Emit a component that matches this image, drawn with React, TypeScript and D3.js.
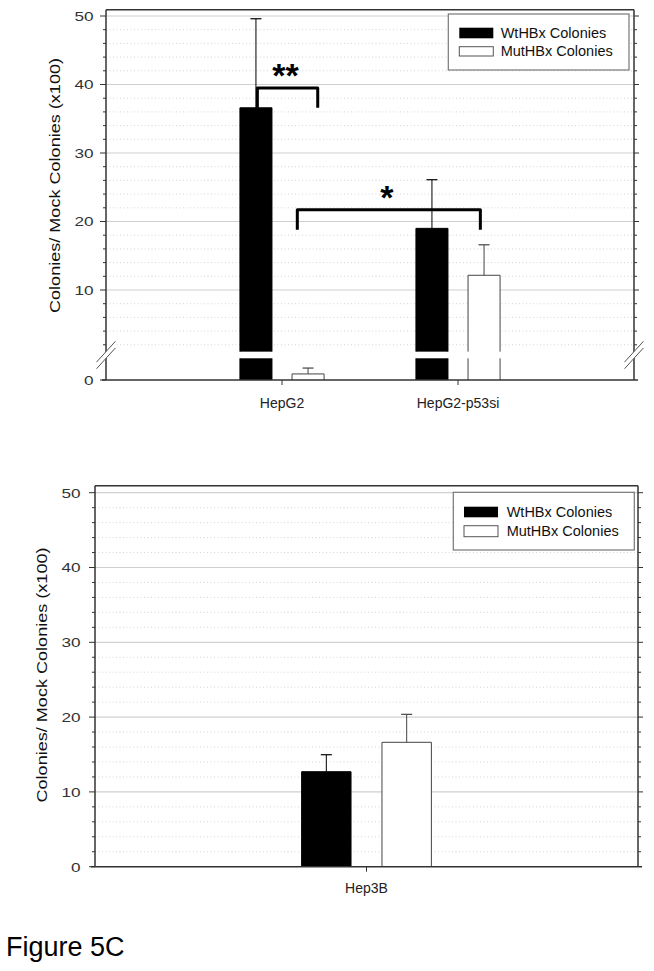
import React from 'react';
import * as d3 from 'd3';

// ---------------- data ----------------
const categoriesTop = ['HepG2', 'HepG2-p53si'];
const wtTop = [36.6, 19.0];
const wtTopErr = [13.0, 7.1];
const mutTop = [0.28, 12.15];
const mutTopErr = [0.27, 4.45];

const categoriesBottom = ['Hep3B'];
const wtBottom = [12.7];
const wtBottomErr = [2.27];
const mutBottom = [16.63];
const mutBottomErr = [3.74];

const seriesNames = ['WtHBx Colonies', 'MutHBx Colonies'];
const majorTicks = [10, 20, 30, 40, 50];
const minorTicks = d3.range(2, 50, 2).filter((v) => v % 10 !== 0);
const yTitle = 'Colonies/ Mock Colonies (x100)';
const figureLabel = 'Figure 5C';

// significance annotations (top panel): ends given as [category, offset in steps]
const sigLabels = ['**', '*'];
const sigLevels = [39.5, 21.7];
const sigDrops = [36.6, 18.8];
const sigLeft: [string, number][] = [['HepG2', -0.14], ['HepG2', 0.087]];
const sigRight: [string, number][] = [['HepG2', 0.203], ['HepG2-p53si', 0.127]];

const FONT = "'Liberation Sans', Arial, Helvetica, sans-serif";
const AXIS = '#333';
const GRID = '#d0d0d0';
const DOT = '#d6d6d6';

const BAR_OFF = 0.148;
const BAR_W = 0.182;
const CAP = 11;

type Panel = {
  left: number;
  right: number;
  top: number;
  bottom: number;
  cats: string[];
  wt: number[];
  wtErr: number[];
  mut: number[];
  mutErr: number[];
  yUpper: d3.ScaleLinear<number, number>;
  yLower?: d3.ScaleLinear<number, number>;
  breakVal?: number;
  tickLabelX: number;
  titleX: number;
  titleY: number;
  catLabelY: number;
  legend: { x: number; y: number; w: number; h: number; sx: number; s1: number; s2: number; sh1: number; sh2: number; tx: number; b1: number; b2: number };
};

function BreakMark({ x, yUp, yLo }: { x: number; yUp: number; yLo: number }) {
  const dx = 9.5;
  const k = 1.1;
  const p = [
    [x - dx, yLo + dx * k],
    [x + dx, yLo - dx * k],
    [x + dx, yUp - dx * k],
    [x - dx, yUp + dx * k],
  ];
  return (
    <g>
      <polygon points={p.map((q) => q.join(',')).join(' ')} fill="#fff" />
      <line x1={p[0][0]} y1={p[0][1]} x2={p[1][0]} y2={p[1][1]} stroke="#555" strokeWidth={1} />
      <line x1={p[3][0]} y1={p[3][1]} x2={p[2][0]} y2={p[2][1]} stroke="#555" strokeWidth={1} />
    </g>
  );
}

function PanelChart({ pn, children }: { pn: Panel; children?: React.ReactNode }) {
  const x = d3.scalePoint<string>().domain(pn.cats).range([pn.left, pn.right]).padding(1);
  const step = x.step();
  const bw = BAR_W * step;
  const yU = pn.yUpper;
  const yL = pn.yLower;
  const bv = pn.breakVal ?? 0;
  const yv = (v: number) => (yL && v <= bv ? yL(v) : yU(v));
  const y0 = yL ? yL(0) : yU(0);

  // segments: [top, bottom, isTopSegment, isBottomSegment]
  const barSegs = (v: number): [number, number, boolean, boolean][] => {
    if (!yL) return [[yU(v), yU(0), true, true]];
    if (v <= bv) return [[yL(v), yL(0), true, true]];
    return [
      [yL(bv), yL(0), false, true],
      [yU(v), yU(bv), true, false],
    ];
  };

  const series = [
    { vals: pn.wt, errs: pn.wtErr, off: -BAR_OFF, fill: '#000', stroke: '#000', err: '#000' },
    { vals: pn.mut, errs: pn.mutErr, off: BAR_OFF, fill: '#fff', stroke: '#444', err: '#444' },
  ];

  const yTopFrame = pn.top;
  const lg = pn.legend;

  return (
    <g>
      {/* grid */}
      {minorTicks.map((v) => (
        <line key={'mg' + v} x1={pn.left} x2={pn.right} y1={yU(v)} y2={yU(v)} stroke={DOT} strokeWidth={1} strokeDasharray="1 2.5" />
      ))}
      {majorTicks.map((v) => (
        <line key={'g' + v} x1={pn.left} x2={pn.right} y1={yU(v)} y2={yU(v)} stroke={GRID} strokeWidth={1.2} />
      ))}

      {/* bars */}
      {series.map((s, si) =>
        pn.cats.map((c, i) => {
          const cx = (x(c) as number) + s.off * step;
          const x0 = cx - bw / 2;
          const x1 = cx + bw / 2;
          return (
            <g key={'b' + si + i}>
              {barSegs(s.vals[i]).map(([t, b, isTop], k) => (
                <g key={k}>
                  <rect x={x0} y={t} width={bw} height={b - t} fill={s.fill} />
                  <path
                    d={`M${x0},${b} V${t} ${isTop ? 'H' + x1 : 'M' + x1 + ',' + t} V${b}`}
                    fill="none"
                    stroke={s.stroke}
                    strokeWidth={1}
                  />
                </g>
              ))}
              <line x1={cx} x2={cx} y1={yv(s.vals[i])} y2={yv(s.vals[i] + s.errs[i])} stroke={s.err} strokeWidth={1} />
              <line x1={cx - CAP / 2} x2={cx + CAP / 2} y1={yv(s.vals[i] + s.errs[i])} y2={yv(s.vals[i] + s.errs[i])} stroke={s.err} strokeWidth={1.2} />
            </g>
          );
        })
      )}

      {/* frame */}
      <line x1={pn.left} x2={pn.right} y1={yTopFrame} y2={yTopFrame} stroke={AXIS} strokeWidth={1.5} />
      <line x1={pn.left} x2={pn.left} y1={yTopFrame} y2={y0} stroke={AXIS} strokeWidth={1.5} />
      <line x1={pn.right} x2={pn.right} y1={yTopFrame} y2={y0} stroke={AXIS} strokeWidth={1.5} />
      <line x1={pn.left - 4} x2={pn.right + 4} y1={y0} y2={y0} stroke={AXIS} strokeWidth={1.5} />

      {/* y ticks */}
      {majorTicks.map((v) => (
        <g key={'t' + v}>
          <line x1={pn.left - 6} x2={pn.left} y1={yU(v)} y2={yU(v)} stroke={AXIS} strokeWidth={1} />
          <line x1={pn.right} x2={pn.right + 5} y1={yU(v)} y2={yU(v)} stroke={AXIS} strokeWidth={1} />
        </g>
      ))}
      {minorTicks.map((v) => (
        <g key={'mt' + v}>
          <line x1={pn.left - 3} x2={pn.left} y1={yU(v)} y2={yU(v)} stroke={AXIS} strokeWidth={1} />
          <line x1={pn.right} x2={pn.right + 3} y1={yU(v)} y2={yU(v)} stroke={AXIS} strokeWidth={1} />
        </g>
      ))}
      <line x1={pn.left - 6} x2={pn.left} y1={y0} y2={y0} stroke={AXIS} strokeWidth={1} />

      {/* axis breaks */}
      {yL && (
        <g>
          <BreakMark x={pn.left} yUp={yU(bv)} yLo={yL(bv)} />
          <BreakMark x={pn.right} yUp={yU(bv)} yLo={yL(bv)} />
        </g>
      )}

      {/* tick labels */}
      {[0, ...majorTicks].map((v) => (
        <text
          key={'tl' + v}
          transform={`translate(${pn.tickLabelX},${(v === 0 ? y0 : yU(v)) + 4.8}) scale(1.27,1)`}
          textAnchor="end"
          fontFamily={FONT}
          fontSize={13.5}
          fill="#333"
        >
          {v}
        </text>
      ))}

      {/* x ticks + labels */}
      {pn.cats.map((c) => (
        <g key={'c' + c}>
          <line x1={x(c)} x2={x(c)} y1={y0} y2={y0 + 5} stroke={AXIS} strokeWidth={1} />
          <text x={x(c)} y={pn.catLabelY} textAnchor="middle" fontFamily={FONT} fontSize={14} fill="#222">
            {c}
          </text>
        </g>
      ))}

      {/* y title */}
      <text
        transform={`translate(${pn.titleX},${pn.titleY}) rotate(-90)`}
        textAnchor="middle"
        fontFamily={FONT}
        fontSize={15}
        textLength={255}
        lengthAdjust="spacingAndGlyphs"
        fill="#111"
      >
        {yTitle}
      </text>

      {/* legend */}
      <rect x={lg.x} y={lg.y} width={lg.w} height={lg.h} fill="#fff" stroke="#777" strokeWidth={1.2} />
      <rect x={lg.sx} y={lg.s1} width={34} height={lg.sh1} fill="#000" />
      <rect x={lg.sx} y={lg.s2} width={34} height={lg.sh2} fill="#fff" stroke="#555" strokeWidth={1} />
      <text x={lg.tx} y={lg.b1} fontFamily={FONT} fontSize={14.5} fill="#111">
        {seriesNames[0]}
      </text>
      <text x={lg.tx} y={lg.b2} fontFamily={FONT} fontSize={14.5} fill="#111">
        {seriesNames[1]}
      </text>

      {children}
    </g>
  );
}

export default function App() {
  const topPanel: Panel = {
    left: 106,
    right: 634,
    top: 9.7,
    bottom: 380,
    cats: categoriesTop,
    wt: wtTop,
    wtErr: wtTopErr,
    mut: mutTop,
    mutErr: mutTopErr,
    yUpper: d3.scaleLinear().domain([10, 50]).range([290, 16]),
    yLower: d3.scaleLinear().domain([0, 1]).range([380, 358.3]),
    breakVal: 1,
    tickLabelX: 93.5,
    titleX: 60,
    titleY: 185.5,
    catLabelY: 407.7,
    legend: { x: 448.3, y: 14, w: 180.7, h: 56, sx: 459.3, s1: 27.7, s2: 46.7, sh1: 10.6, sh2: 9.3, tx: 500.7, b1: 38.3, b2: 56 },
  };
  const botPanel: Panel = {
    left: 95,
    right: 638,
    top: 485.7,
    bottom: 866.7,
    cats: categoriesBottom,
    wt: wtBottom,
    wtErr: wtBottomErr,
    mut: mutBottom,
    mutErr: mutBottomErr,
    yUpper: d3.scaleLinear().domain([0, 50]).range([866.7, 492.7]),
    tickLabelX: 80.5,
    titleX: 46.5,
    titleY: 675,
    catLabelY: 893,
    legend: { x: 453.3, y: 492.3, w: 181, h: 57.7, sx: 464, s1: 506.7, s2: 525.7, sh1: 10.6, sh2: 11, tx: 506.7, b1: 517.3, b2: 535.7 },
  };

  const xTop = d3.scalePoint<string>().domain(categoriesTop).range([topPanel.left, topPanel.right]).padding(1);
  const stepTop = xTop.step();
  const yU = topPanel.yUpper;

  return (
    <svg width={654} height={971} style={{ position: 'absolute', left: 0, top: 0, background: '#fff' }}>
      <rect width={654} height={971} fill="#fff" />
      <PanelChart pn={topPanel}>
        {sigLabels.map((lab, i) => {
          const xl = (xTop(sigLeft[i][0]) as number) + sigLeft[i][1] * stepTop;
          const xr = (xTop(sigRight[i][0]) as number) + sigRight[i][1] * stepTop;
          const yl = yU(sigLevels[i]);
          const yd = yU(sigDrops[i]);
          return (
            <g key={'sig' + i}>
              <path d={`M${xl},${yd} V${yl} H${xr} V${yd}`} fill="none" stroke="#000" strokeWidth={3} strokeLinejoin="round" />
              <text x={(xl + xr) / 2 - 2} y={yl - 0.5} textAnchor="middle" fontFamily={FONT} fontWeight="bold" fontSize={34} fill="#000">
                {lab}
              </text>
            </g>
          );
        })}
      </PanelChart>
      <PanelChart pn={botPanel} />
      <text x={6} y={956} fontFamily={FONT} fontSize={27} fill="#000">
        {figureLabel}
      </text>
    </svg>
  );
}
